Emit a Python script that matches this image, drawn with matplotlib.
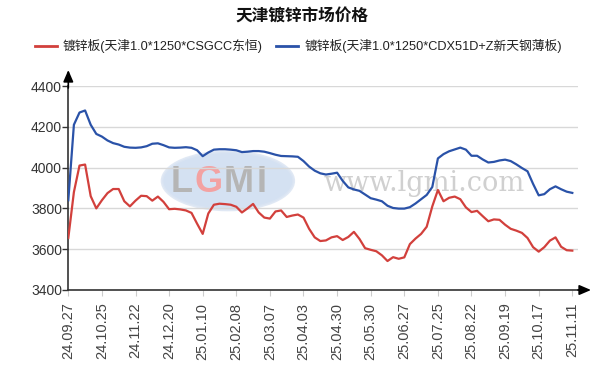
import matplotlib
matplotlib.use("Agg")
import matplotlib.pyplot as plt
from matplotlib.patches import Ellipse

plt.rcParams['font.family'] = ['Liberation Sans', 'Noto Sans CJK SC', 'DejaVu Sans']

title = "天津镀锌市场价格"
series_names = ["镀锌板(天津1.0*1250*CSGCC东恒)", "镀锌板(天津1.0*1250*CDX51D+Z新天钢薄板)"]
tick_labels = ["24.09.27", "24.10.25", "24.11.22", "24.12.20", "25.01.10", "25.02.08",
               "25.03.07", "25.04.03", "25.04.30", "25.05.30", "25.06.27", "25.07.25",
               "25.08.22", "25.09.19", "25.10.17", "25.11.11"]
points_per_tick = 6

red_values = [3655, 3880, 4010, 4015, 3860, 3800, 3840, 3875, 3895, 3895,
              3835, 3810, 3838, 3862, 3860, 3838, 3858, 3832, 3796, 3798,
              3795, 3790, 3778, 3725, 3675, 3775, 3818, 3823, 3821, 3818,
              3808, 3780, 3800, 3822, 3780, 3755, 3750, 3785, 3790, 3758,
              3765, 3770, 3755, 3700, 3658, 3640, 3643, 3658, 3664, 3645,
              3660, 3685, 3650, 3605, 3597, 3590, 3570, 3542, 3561, 3553,
              3560, 3625, 3652, 3675, 3710, 3810, 3890, 3835, 3852, 3858,
              3845, 3805, 3782, 3788, 3762, 3737, 3746, 3744, 3720, 3700,
              3691, 3680, 3655, 3610, 3588, 3610, 3642, 3658, 3612, 3595,
              3593]
blue_values = [3840, 4210, 4270, 4280, 4210, 4165, 4152, 4133, 4120, 4113,
               4102, 4098, 4097, 4099, 4105, 4117, 4119, 4110, 4099, 4097,
               4098, 4100, 4097, 4085, 4056, 4074, 4088, 4090, 4090, 4088,
               4085, 4076, 4078, 4081, 4081, 4078, 4071, 4063, 4057, 4056,
               4055, 4053, 4032, 4005, 3985, 3972, 3966, 3970, 3975, 3935,
               3903, 3893, 3886, 3868, 3850, 3843, 3835, 3813, 3802, 3799,
               3799, 3806, 3824, 3845, 3866, 3905, 4045, 4066, 4080, 4089,
               4098, 4088, 4058, 4058, 4040, 4025, 4028, 4035, 4039, 4032,
               4016, 3998, 3982, 3920, 3864, 3870, 3894, 3908, 3894, 3882,
               3876]
y_ticks = [3400, 3600, 3800, 4000, 4200, 4400]

red_color = "#d2403c"
blue_color = "#2a52a8"

W, H = 597, 376
fig = plt.figure(figsize=(W / 100, H / 100), dpi=100)
ax_l, ax_r, ax_b, ax_t = 68.3, 578, 290, 86
ax = fig.add_axes([ax_l / W, 1 - ax_b / H, (ax_r - ax_l) / W, (ax_b - ax_t) / H])

x = list(range(len(red_values)))

# watermark
ax.add_patch(Ellipse((28.5, 3935), 23.5, 285, facecolor="#cddcf0", edgecolor="#dbe5f3",
                     lw=2, alpha=0.85, zorder=0))
for letter, xpos, col in [("L", 18.2, "#b5b5b5"), ("G", 22.5, "#f3a2a2"),
                          ("M", 27.8, "#b5b5b5"), ("I", 33.6, "#b5b5b5")]:
    ax.text(xpos, 3925, letter, color=col, fontsize=26, fontweight="bold",
            ha="left", va="center", zorder=0.5, family="Liberation Sans")
ax.text(63.5, 3922, "www.lgmi.com", color="#d0d0d0", fontsize=19.5,
        ha="center", va="center", zorder=0.5, family="DejaVu Serif")

ax.plot(x, red_values, color=red_color, lw=1.6, zorder=3, solid_joinstyle="round")
ax.plot(x, blue_values, color=blue_color, lw=1.6, zorder=3, solid_joinstyle="round")

ax.set_xlim(0, (ax_r - ax_l) / ((572.3 - ax_l) / ((len(tick_labels) - 1) * points_per_tick)))
ax.set_ylim(3400, 4400)
ax.set_yticks(y_ticks)
ax.set_yticklabels([str(v) for v in y_ticks])
ax.set_xticks([i * points_per_tick for i in range(len(tick_labels))])
ax.set_xticklabels(tick_labels, rotation=90, va="top", ha="center")

ax.grid(axis="y", color="#d8d8d8", lw=1)
ax.set_axisbelow(True)
for s in ["top", "right"]:
    ax.spines[s].set_visible(False)
ax.spines["left"].set_color("#333333")
ax.spines["bottom"].set_color("#333333")
ax.spines["left"].set_linewidth(1.2)
ax.spines["bottom"].set_linewidth(1.2)
ax.tick_params(axis="y", length=4, width=1, color="#333333", labelsize=10,
               labelcolor="#333333", pad=0.5)
ax.tick_params(axis="x", length=4, width=0.8, color="#cccccc", labelsize=10.5,
               labelcolor="#444444", pad=5)

# axis arrows
ax.annotate("", xy=(ax_l / W, 1 - 70 / H), xytext=(ax_l / W, 1 - 88 / H),
            xycoords="figure fraction",
            arrowprops=dict(arrowstyle="-|>,head_length=0.7,head_width=0.3",
                            color="black", lw=1.2, shrinkA=0, shrinkB=0))
ax.annotate("", xy=(591 / W, 1 - ax_b / H), xytext=(ax_r / W, 1 - ax_b / H),
            xycoords="figure fraction",
            arrowprops=dict(arrowstyle="-|>,head_length=0.7,head_width=0.3",
                            color="black", lw=1.2, shrinkA=0, shrinkB=0))
fig.add_artist(plt.Line2D([ax_r / W, 578 / W], [1 - ax_b / H, 1 - ax_b / H],
                          color="#333333", lw=1.2))

fig.text(302 / W, 1 - 17 / H, title, ha="center", va="center", fontsize=12,
         fontweight="bold", color="#111111")

# legend
ly = 1 - 46 / H
fig.add_artist(plt.Line2D([35 / W, 57 / W], [ly, ly], color=red_color, lw=2))
fig.text(63 / W, ly, series_names[0], ha="left", va="center", fontsize=9.2, color="#222222")
fig.add_artist(plt.Line2D([276 / W, 298 / W], [ly, ly], color=blue_color, lw=2))
fig.text(305 / W, ly, series_names[1], ha="left", va="center", fontsize=9.2, color="#222222")

fig.savefig("out.png", dpi=100, facecolor="white")
